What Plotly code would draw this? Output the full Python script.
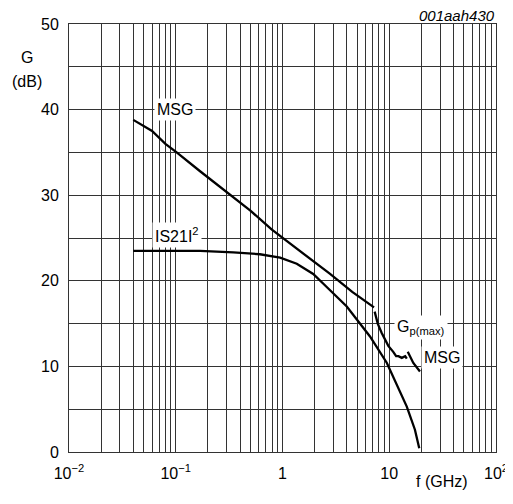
import plotly.graph_objects as go

# Data
msg_low_f = [0.04, 0.06, 0.08, 0.102, 0.169, 0.30, 0.5, 0.79, 1.94, 2.79, 4.5, 7.2]
msg_low_g = [38.8, 37.5, 36.0, 35.0, 32.8, 30.4, 28.2, 26.0, 22.3, 20.8, 18.7, 16.9]

gpmax_f = [7.3, 7.8, 8.5, 9.8, 10.9, 11.6, 12.2, 13.1, 14.1, 14.6]
gpmax_g = [16.4, 15.0, 13.9, 12.4, 11.7, 11.2, 11.2, 11.0, 11.2, 10.9]

msg_high_f = [14.9, 16.8, 19.4]
msg_high_g = [11.7, 10.4, 9.4]

s21_f = [0.04, 0.1, 0.169, 0.346, 0.615, 0.95, 1.36, 1.94, 2.24, 2.79, 4.0, 6.6, 9.5, 11.7, 14.6, 17.4, 19.1]
s21_g = [23.5, 23.5, 23.5, 23.33, 23.1, 22.7, 22.0, 20.8, 20.0, 18.9, 17.0, 13.5, 10.4, 8.0, 5.3, 2.6, 0.43]

decades = [-2, -1, 0, 1, 2]
decade_labels = ["10<sup>\u22122</sup>", "10<sup>\u22121</sup>", "1", "10", "10<sup>2</sup>"]
y_ticks = [0, 10, 20, 30, 40, 50]
y_grid = [0, 5, 10, 15, 20, 25, 30, 35, 40, 45, 50]

FONT = "Liberation Sans, Arial, sans-serif"
FS = 16

tickvals, ticktext = [], []
for d, lab in zip(decades, decade_labels):
    tickvals.append(10 ** d)
    ticktext.append(lab)
    if d < 2:
        for m in range(2, 10):
            tickvals.append(m * 10 ** d)
            ticktext.append("")

line = dict(color="black", width=2.3)
fig = go.Figure()
for xs, ys in [(msg_low_f, msg_low_g), (gpmax_f, gpmax_g), (msg_high_f, msg_high_g), (s21_f, s21_g)]:
    fig.add_trace(go.Scatter(x=xs, y=ys, mode="lines", line=line, showlegend=False, hoverinfo="skip"))

# page body adds an 8px margin; compensate so plot area sits at the reference pixels
OFF = 8
L, R, T, B = 69, 496, 24, 452
W, H = R - L, B - T
FW, FH = 513 - OFF, 504 - OFF

fig.update_layout(
    width=FW, height=FH,
    margin=dict(l=L - OFF, r=FW - (R - OFF), t=T - OFF, b=FH - (B - OFF), autoexpand=False),
    paper_bgcolor="white", plot_bgcolor="white",
    font=dict(family=FONT, size=FS, color="black"),
    xaxis=dict(type="log", range=[-2, 2], tickvals=tickvals, ticktext=ticktext,
               showgrid=True, gridcolor="#333", gridwidth=1, ticks="", zeroline=False,
               showline=True, linecolor="#333", linewidth=1, mirror=True,
               tickfont=dict(size=FS), automargin=False, ticklabelstandoff=7,
               ticklabeloverflow="allow"),
    yaxis=dict(range=[0, 50], tickvals=y_grid,
               ticktext=[str(v) if v in y_ticks else "" for v in y_grid],
               showgrid=True, gridcolor="#333", gridwidth=1, ticks="", zeroline=False,
               showline=True, linecolor="#333", linewidth=1, mirror=True,
               tickfont=dict(size=FS), automargin=False, ticklabelstandoff=6,
               ticklabeloverflow="allow"),
)

ann = [
    dict(x=-1.007, y=40, text="MSG"),
    dict(x=-0.99, y=25.3, text="IS21I<sup>2</sup>"),
    dict(x=1.30, y=14.5, text="G<sub>p(max)</sub>"),
    dict(x=1.494, y=11.0, text="MSG"),
]
for a in ann:
    fig.add_annotation(**a, xref="x", yref="y", showarrow=False, bgcolor="white",
                       font=dict(size=FS, family=FONT), borderpad=2)

def px(x, y):
    return (x - L) / W, (B - y) / H

for text, (x, y), kw in [
    ("G", px(27, 57), dict(xanchor="center", yanchor="middle")),
    ("(dB)", px(27, 82), dict(xanchor="center", yanchor="middle")),
    ("f (GHz)", px(442, 481), dict(xanchor="center", yanchor="middle")),
    ("<i>001aah430</i>", px(496, 15), dict(xanchor="right", yanchor="middle", borderpad=0,
                                          font=dict(size=15, family=FONT))),
]:
    fig.add_annotation(x=x, y=y, xref="paper", yref="paper", text=text, showarrow=False, **kw)

fig.write_html("out.html")
